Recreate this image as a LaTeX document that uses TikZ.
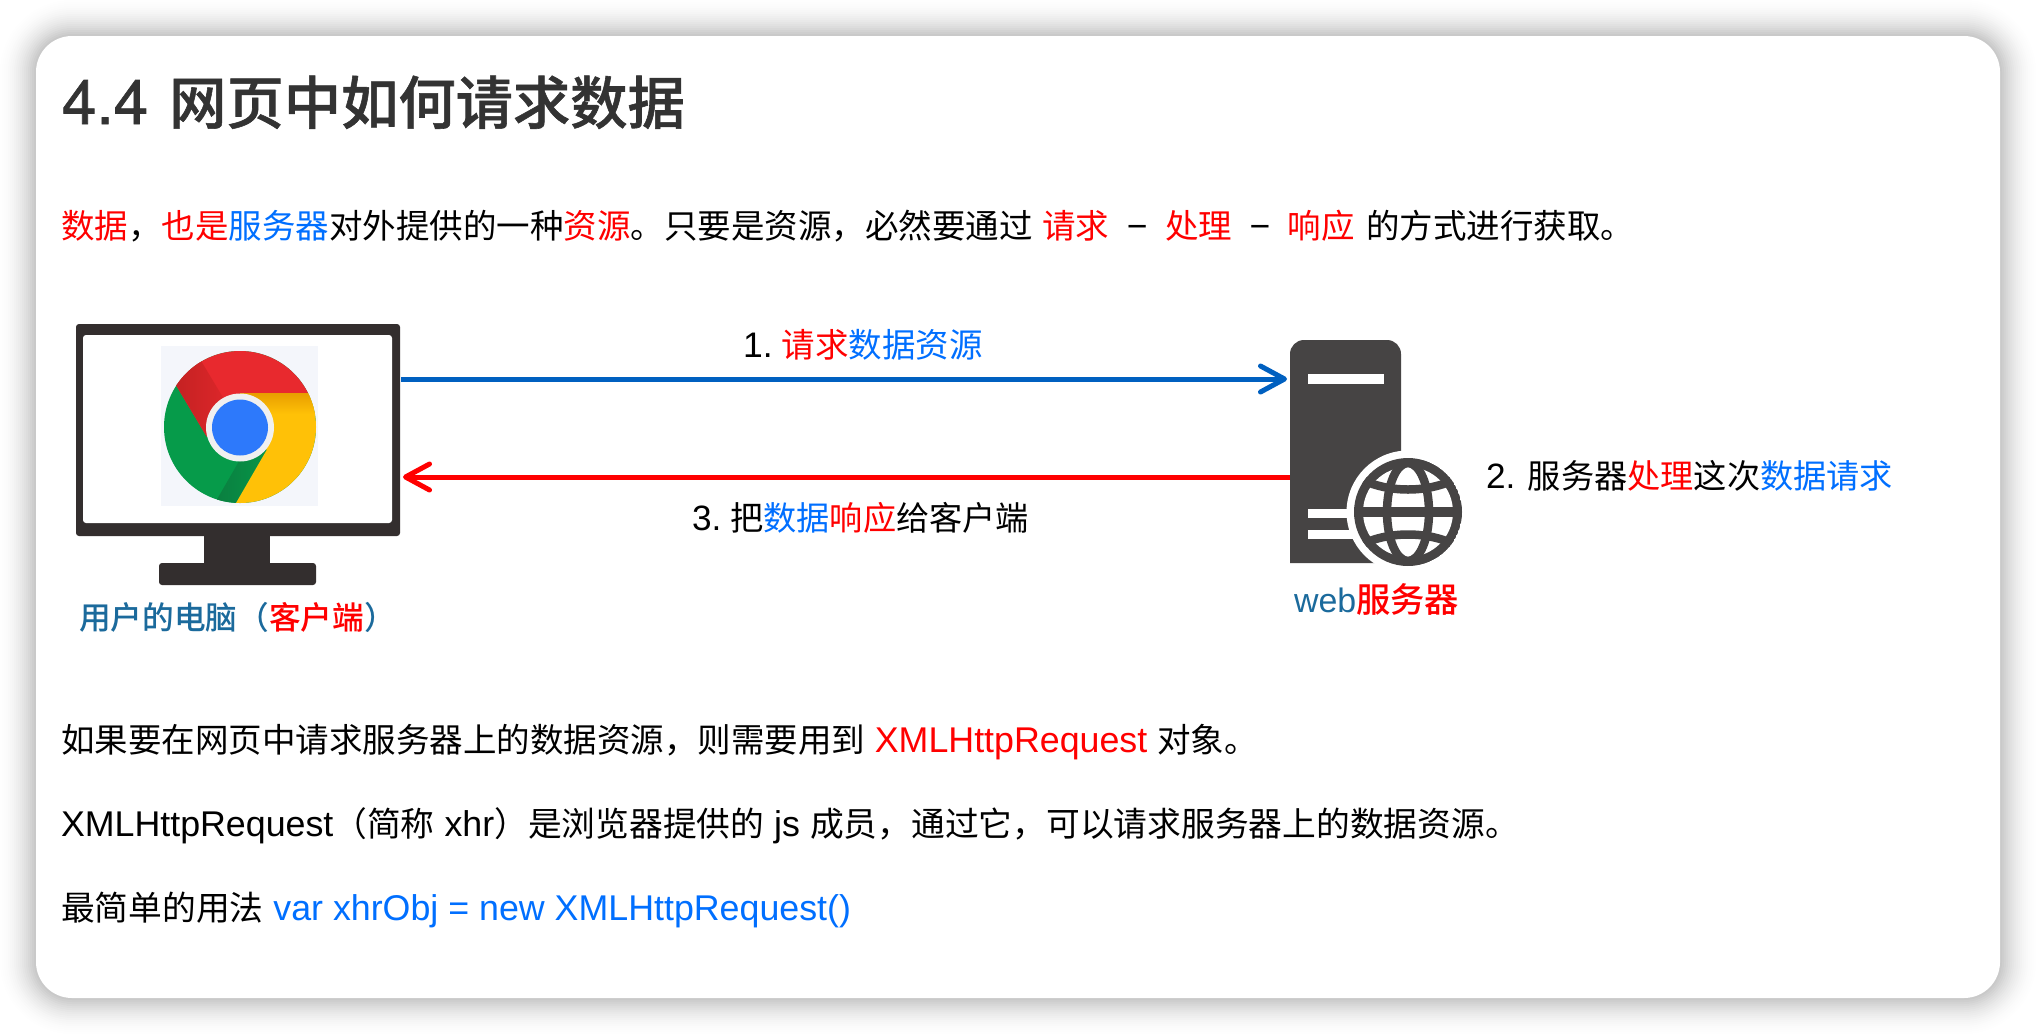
\documentclass[tikz,border=0pt]{standalone}
\usepackage{fontspec}
\usepackage{xcolor}
\setmainfont[Scale=1.06]{Liberation Sans}
\newfontfamily\cjkfont{Noto Sans CJK SC}
\newfontfamily\cjkmed{Noto Sans CJK SC Medium}
\newfontfamily\ttlcjk[FakeBold=1]{Noto Sans CJK SC Medium}
\newfontfamily\ttlfont[FakeBold=1]{TeX Gyre Heros}
\newcommand{\cj}[1]{{\cjkfont #1}}
\newcommand{\rd}[1]{\textcolor{cred}{\cjkfont #1}}
\newcommand{\bl}[1]{\textcolor{cblue}{\cjkfont #1}}
\newcommand{\dashfw}{\makebox[36pt]{−}}
\definecolor{cred}{HTML}{FF0000}
\definecolor{cblue}{HTML}{006FFF}
\definecolor{ctitle}{HTML}{333333}
\definecolor{cteal}{HTML}{1B6A9C}
\definecolor{cmon}{HTML}{332E2E}
\definecolor{csrv}{HTML}{464444}
\definecolor{carrow}{HTML}{0060C0}
\definecolor{gn}{HTML}{069B4A}
\definecolor{gnd}{HTML}{0B7A3E}
\definecolor{rdb}{HTML}{E8292E}
\definecolor{rdd}{HTML}{BE2020}
\definecolor{yl}{HTML}{FFC107}
\definecolor{yld}{HTML}{E89E00}
\definecolor{cbl}{HTML}{2D79FB}
\definecolor{logobg}{HTML}{F4F6FB}
\usetikzlibrary{arrows.meta}
\tikzset{
  txt/.style={anchor=base west,inner sep=0pt,outer sep=0pt,font=\fontsize{33.75}{40}\selectfont,text=black},
  box/.style={rectangle,inner sep=0pt,outer sep=0pt},
  flow/.style={line width=5pt,shorten >=3pt,-{Straight Barb[length=24pt,width=26pt,round,line width=5pt]}},
}
\begin{document}
\begin{tikzpicture}[x=1pt,y=-1pt]
\useasboundingbox (0,0) rectangle (2036,1034);
\fill[white] (0,0) rectangle (2036,1034);
% shadow
\foreach \d in {38,36,...,0}{
  \pgfmathsetmacro{\op}{0.0222*(1-\d/40)}
  \pgfmathsetmacro{\rr}{36+\d}
  \fill[black,opacity=\op,rounded corners=\rr pt] (36-\d,36-\d) rectangle (2000+\d,998+\d);
}
\node[box,fill=white,rounded corners=36pt,minimum width=1964pt,minimum height=962pt] (card) at (1018,517) {};
% title and paragraphs
\node[txt,font=\fontsize{57.3}{60}\selectfont,text=ctitle] (title) at (62,124) {{\ttlfont\fontsize{62}{60}\selectfont 4.4}\hspace{21pt}{\ttlcjk 网页中如何请求数据}};
\node[txt,font=\fontsize{33.5}{40}\selectfont] (line1) at (61,238) {\rd{数据}\cj{，}\rd{也是}\bl{服务器}\cj{对外提供的一种}\rd{资源}\cj{。只要是资源，必然要通过} \rd{请求} \dashfw{} \rd{处理} \dashfw{} \rd{响应}\hspace{1.5pt} \cj{的方式进行获取。}};
\node[txt,font=\fontsize{33.5}{40}\selectfont] (line3) at (61,752) {\cj{如果要在网页中请求服务器上的数据资源，则需要用到} {\fontsize{33.75}{40}\selectfont\textcolor{cred}{XMLHttpRequest}} \cj{对象。}};
\node[txt] (line4) at (61,836) {XMLHttpRequest\cj{（简称} xhr\cj{）是浏览器提供的} js \cj{成员，通过它，可以请求服务器上的数据资源。}};
\node[txt] (line5) at (61,920) {\cj{最简单的用法} \textcolor{cblue}{var xhrObj = new XMLHttpRequest()}};
% monitor
\node[box,fill=cmon,rounded corners=3pt,minimum width=324pt,minimum height=212pt] (monitor) at (238,430) {};
\node[box,fill=white,rounded corners=3pt,minimum width=309pt,minimum height=188pt] (screen) at (237.5,429) {};
\node[box,fill=cmon,minimum width=66pt,minimum height=28pt] (stand) at (237,550) {};
\node[box,fill=cmon,rounded corners=3pt,minimum width=157pt,minimum height=22pt] (base) at (237.5,574) {};
% chrome logo
\fill[logobg] (161,346) rectangle (318,506);
\begin{scope}
  \clip (240,427) circle[radius=76];
  \fill[gn] (150,340) rectangle (330,520);
  \begin{scope}[shift={(251,476.5)},rotate=150]
    \shade[left color=gnd,right color=gn] (0,-60) rectangle (18,60);
  \end{scope}
  % red
  \begin{scope}
    \clip (206.7,436.7) -- (139.4,323.6) -- (139.4,250) -- (347,250) -- (347,393) -- (240,393) -- cycle;
    \fill[rdb] (150,340) rectangle (330,520);
    \begin{scope}[shift={(191.5,411)},rotate=31]
      \shade[left color=rdd,right color=rdb] (0,-60) rectangle (34,60);
    \end{scope}
  \end{scope}
  % yellow
  \begin{scope}
    \clip (240,393) -- (347,393) -- (347,550) -- (208.8,550) -- (266.7,450) -- cycle;
    \fill[yl] (150,340) rectangle (330,520);
    \shade[top color=yld,bottom color=yl] (240,393) rectangle (330,414);
  \end{scope}
\end{scope}
\fill[black!6] (240,427.5) circle[radius=34];
\fill[cbl] (240,427.5) circle[radius=28];
% server
\node[box,minimum width=111pt,minimum height=223pt] (server) at (1345.5,451.5) {};
\fill[csrv,rounded corners=14pt] (1290,563) -- (1290,340) -- (1401,340) -- (1401,563);
\fill[csrv] (1290,500) rectangle (1401,563);
\fill[white] (1308,374) rectangle (1383.5,384);
\fill[white] (1308,509) rectangle (1360,518);
\fill[white] (1308,530) rectangle (1360,539);
\fill[white] (1408,512) circle[radius=61.5];
\begin{scope}
  \clip (1408,512) circle[radius=54];
  \fill[csrv] (1408,512) circle[radius=54];
  \fill[white] (1408,512) circle[radius=45];
  \draw[csrv,line width=8.5pt] (1408,512) ellipse[x radius=21,y radius=49];
  \draw[csrv,line width=10pt] (1340,512) -- (1476,512);
  \draw[csrv,line width=8.5pt] (1355,476) .. controls (1385,494) and (1431,494) .. (1461,476);
  \draw[csrv,line width=8.5pt] (1355,548) .. controls (1385,530) and (1431,530) .. (1461,548);
\end{scope}
% connectors
\draw[flow,carrow] ([xshift=1pt,yshift=51pt]monitor.east) -- ([yshift=72.5pt]server.west);
\draw[flow,cred] ([yshift=-25.5pt]server.west) -- ([yshift=-47pt]monitor.east);
% labels
\node[txt,font=\fontsize{33.5}{40}\selectfont] (lab1) at (743,357) {1.\hspace{9pt}\rd{请求}\bl{数据资源}};
\node[txt,font=\fontsize{33.2}{40}\selectfont] (lab3) at (692,530) {3.\hspace{9pt}\cj{把}\bl{数据}\rd{响应}\cj{给客户端}};
\node[txt,font=\fontsize{33.2}{40}\selectfont] (lab2) at (1486,488) {2.\hspace{12.5pt}\cj{服务器}\rd{处理}\cj{这次}\bl{数据请求}};
\node[txt,font=\fontsize{31.7}{38}\selectfont,text=cteal] (pc) at (79,629) {{\cjkmed 用户的电脑（}\textcolor{cred}{\cjkmed 客户端}{\cjkmed ）}};
\node[txt,font=\fontsize{32}{38}\selectfont,text=cteal] (web) at (1294,612) {web{\color{cred}\cjkmed\fontsize{34.3}{38}\selectfont 服务器}};
\end{tikzpicture}
\end{document}
